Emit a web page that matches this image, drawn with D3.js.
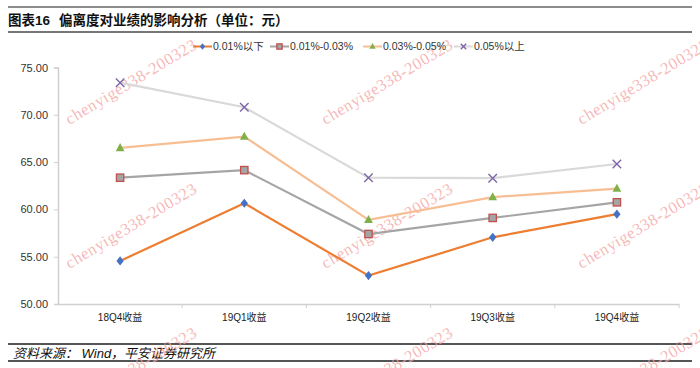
<!DOCTYPE html>
<html><head><meta charset="utf-8">
<script src="https://cdn.jsdelivr.net/npm/d3@7"></script>
<style>
body{margin:0;background:#fff;}
svg{display:block;font-family:"Liberation Sans","Noto Sans CJK SC",Arial,sans-serif;}
</style></head>
<body>
<svg id="c" width="700" height="368"></svg>
<script>
const categories = ["18Q4收益","19Q1收益","19Q2收益","19Q3收益","19Q4收益"];
const seriesNames = ["0.01%以下","0.01%-0.03%","0.03%-0.05%","0.05%以上"];
const s1 = [54.55, 60.65, 53.0, 57.05, 59.5];
const s2 = [63.35, 64.15, 57.4, 59.1, 60.75];
const s3 = [66.5, 67.7, 58.9, 61.3, 62.2];
const s4 = [73.4, 70.8, 63.35, 63.3, 64.8];
const yTicks = [50, 55, 60, 65, 70, 75];
const titleText = "图表16";
const titleText2 = "偏离度对业绩的影响分析（单位：元）";
const sourceText = "资料来源：  Wind，平安证券研究所";
const watermark = "chenyige338-200323";

const seriesData = [s1, s2, s3, s4];
const styles = [
  {line:"#ED7D31", marker:"diamond", fill:"#4472C4", stroke:"#4472C4"},
  {line:"#A5A5A5", marker:"square", fill:"#A5A5A5", stroke:"#C0504D"},
  {line:"#F7BE94", marker:"triangle", fill:"#7FB04A", stroke:"#7FB04A"},
  {line:"#D9D9D9", marker:"cross", fill:"none", stroke:"#7E66A8"}
];
const SANS = "Liberation Sans, Noto Sans CJK SC, Arial, sans-serif";

const svg = d3.select("#c");

// Title bar
svg.append("line").attr("x1",8).attr("x2",692).attr("y1",7).attr("y2",7).attr("stroke","#666").attr("stroke-width",1.5);
svg.append("line").attr("x1",8).attr("x2",692).attr("y1",32).attr("y2",32).attr("stroke","#777").attr("stroke-width",2);
svg.append("text").attr("x",8).attr("y",25).attr("font-size",13.5).attr("font-weight","bold").attr("fill","#111").text(titleText);
svg.append("text").attr("x",59).attr("y",25).attr("font-size",13.5).attr("font-weight","bold").attr("fill","#111").text(titleText2);

// Footer
svg.append("line").attr("x1",8).attr("x2",692).attr("y1",344).attr("y2",344).attr("stroke","#555").attr("stroke-width",2);
svg.append("line").attr("x1",8).attr("x2",692).attr("y1",361).attr("y2",361).attr("stroke","#555").attr("stroke-width",2);
svg.append("text").attr("x",13).attr("y",358).attr("font-size",13).attr("font-style","italic").attr("fill","#111").text(sourceText);

// Scales
const x = d3.scaleBand().domain(categories).range([58, 679]);
const y = d3.scaleLinear().domain([50, 75]).range([304, 67.5]);
const cx = c => x(c) + x.bandwidth()/2;

// Y axis
const yAxis = svg.append("g").attr("transform","translate(58,0)")
  .call(d3.axisLeft(y).tickValues(yTicks).tickFormat(d3.format(".2f")).tickSize(4).tickPadding(6));
yAxis.attr("font-family",SANS);
yAxis.select(".domain").attr("stroke","#D0D0D0").attr("stroke-width",1.5);
yAxis.selectAll(".tick line").attr("stroke","#D0D0D0");
yAxis.selectAll(".tick text").attr("font-size",11).attr("fill","#333");

// X axis
const xAxis = svg.append("g").attr("transform","translate(0,304)")
  .call(d3.axisBottom(x).tickSize(0).tickPadding(10));
xAxis.attr("font-family",SANS);
xAxis.select(".domain").attr("stroke","#D0D0D0").attr("stroke-width",1.5);
xAxis.selectAll(".tick text").attr("font-size",10).attr("fill","#222");
const bounds = categories.map(c => x(c)).concat([x(categories[categories.length-1]) + x.bandwidth()]);
xAxis.selectAll(".btick").data(bounds.slice(1)).enter().append("line")
  .attr("x1",d=>d).attr("x2",d=>d).attr("y1",0).attr("y2",4).attr("stroke","#D0D0D0").attr("stroke-width",1);

function drawMarker(g, type, st, size){
  const s = size;
  if(type==="diamond"){
    g.append("path").attr("d",`M0,${-s}L${s*0.8},0L0,${s}L${-s*0.8},0Z`).attr("fill",st.fill);
  } else if(type==="square"){
    g.append("rect").attr("x",-s*0.8).attr("y",-s*0.8).attr("width",s*1.6).attr("height",s*1.6)
      .attr("fill",st.fill).attr("stroke",st.stroke).attr("stroke-width",1.3);
  } else if(type==="triangle"){
    g.append("path").attr("d",`M0,${-s*1.05}L${s*0.95},${s*0.7}L${-s*0.95},${s*0.7}Z`).attr("fill",st.fill);
  } else {
    g.append("path").attr("d",`M${-s*0.85},${-s*0.85}L${s*0.85},${s*0.85}M${s*0.85},${-s*0.85}L${-s*0.85},${s*0.85}`)
      .attr("stroke",st.stroke).attr("stroke-width",1.4).attr("fill","none");
  }
}

// Watermarks (behind series)
const wmCenters = [[132,83],[388,83],[644,83],[132,227],[388,227],[644,227],[132,371],[388,371],[644,371]];
wmCenters.forEach(([wx,wy]) => {
  svg.append("text").attr("transform",`translate(${wx},${wy}) rotate(-31)`)
    .attr("text-anchor","middle").attr("dominant-baseline","middle")
    .attr("font-family","Liberation Serif, DejaVu Serif, serif").attr("font-size",16.5)
    .attr("letter-spacing",0.6)
    .attr("fill","#F4A0A0").attr("fill-opacity",0.75).text(watermark);
});

// Series
const line = d3.line().x((d,i)=>cx(categories[i])).y(d=>y(d));
seriesData.forEach((vals, k) => {
  const st = styles[k];
  svg.append("path").datum(vals).attr("d",line).attr("fill","none").attr("stroke",st.line).attr("stroke-width",2.2);
});
seriesData.forEach((vals, k) => {
  const st = styles[k];
  vals.forEach((v,i) => {
    const g = svg.append("g").attr("transform",`translate(${cx(categories[i])},${y(v)})`);
    drawMarker(g, st.marker, st, k===3 ? 5 : 4.6);
  });
});

// Legend
const legendX = [193, 270, 363, 454];
seriesNames.forEach((n,k) => {
  const st = styles[k];
  const lx = legendX[k], ly = 46.5;
  svg.append("line").attr("x1",lx).attr("x2",lx+19).attr("y1",ly).attr("y2",ly).attr("stroke",st.line).attr("stroke-width",2);
  const g = svg.append("g").attr("transform",`translate(${lx+9.5},${ly})`);
  drawMarker(g, st.marker, st, k===3 ? 3.2 : 3.3);
  svg.append("text").attr("x",lx+20).attr("y",ly+3.8).attr("font-size",10.5).attr("fill","#333").text(n);
});
</script>
</body></html>
